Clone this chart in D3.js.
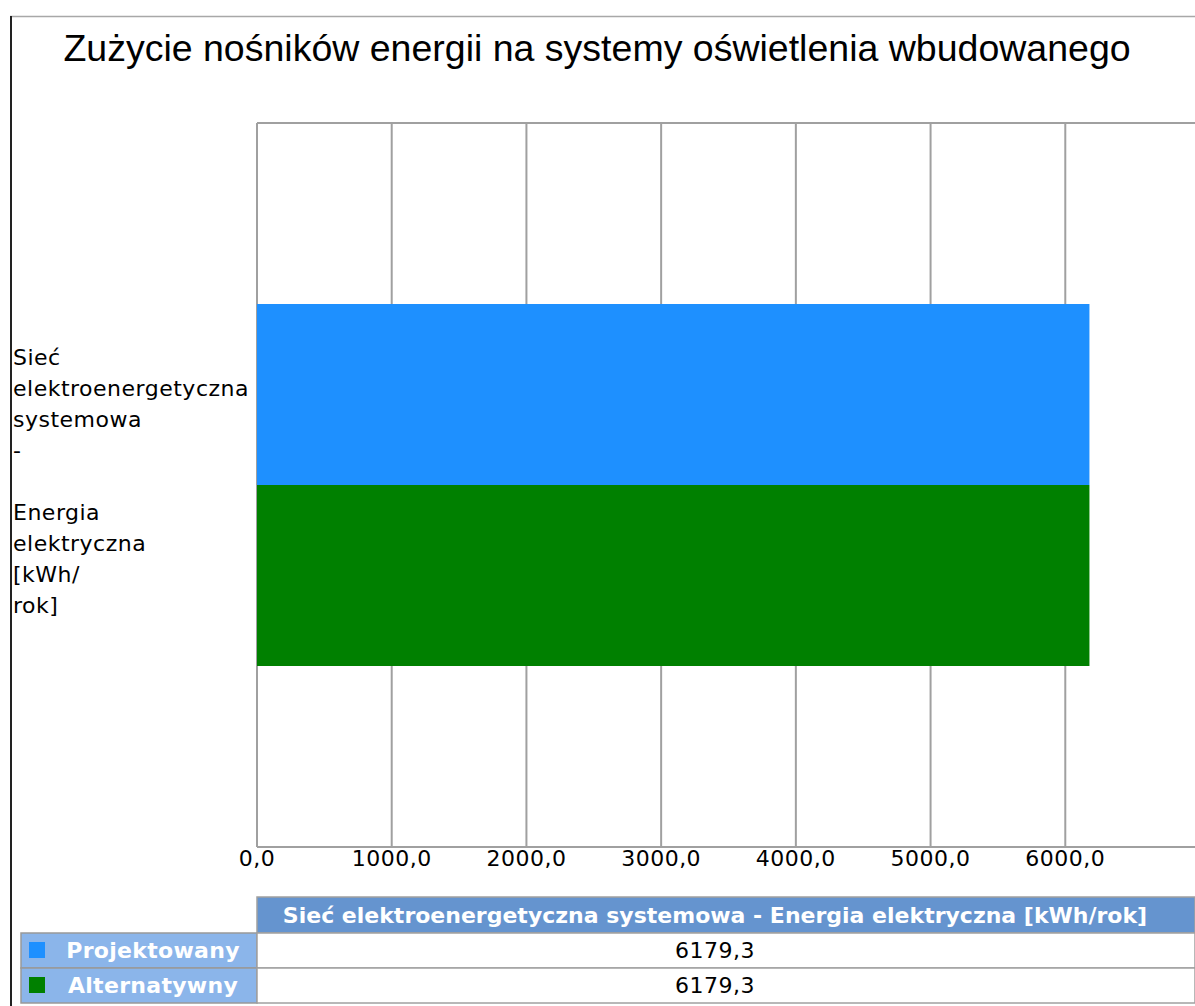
<!DOCTYPE html>
<html>
<head>
<meta charset="utf-8">
<script src="https://cdn.jsdelivr.net/npm/d3@7"></script>
<style>
  body { margin: 0; background: #fff; }
  svg { display: block; }
</style>
</head>
<body>
<svg id="chart" width="1195" height="1006"></svg>
<script>
// Chart data
const chartTitle = "Zużycie nośników energii na systemy oświetlenia wbudowanego";
const categoryName = "Sieć elektroenergetyczna systemowa - Energia elektryczna [kWh/rok]";
const categoryLines = ["Sieć", "elektroenergetyczna", "systemowa", "-", "", "Energia", "elektryczna", "[kWh/", "rok]"];
const seriesNames = ["Projektowany", "Alternatywny"];
const seriesValues = [6179.3, 6179.3];
const seriesColors = ["#1e90ff", "#008000"];
const xTicks = [0, 1000, 2000, 3000, 4000, 5000, 6000];

let svg = d3.select("#chart");
const W = 1195, H = 1006;

//Plot area
const plot = {left: 257, top: 123, bottom: 847, right: 1200};
const fmt = v => d3.format(".1f")(v).replace(".", ",");

let x = d3.scaleLinear().domain([0, 7000]).range([plot.left, plot.right]);
let yCat = d3.scaleBand().domain([categoryName]).range([plot.top, plot.bottom])
    .paddingInner(0).paddingOuter(0.5);
let ySer = d3.scaleBand().domain(seriesNames).range([0, yCat.bandwidth()]);

//Outer frame
svg.append("line").attr("x1", 10).attr("x2", W).attr("y1", 16.5).attr("y2", 16.5)
    .attr("stroke", "#a8a8a8").attr("stroke-width", 1.5);
svg.append("line").attr("x1", 11).attr("x2", 11).attr("y1", 16).attr("y2", H)
    .attr("stroke", "#222").attr("stroke-width", 2);

//Title
svg.append("text")
    .attr("x", 597).attr("y", 61)
    .attr("text-anchor", "middle")
    .attr("font-family", "Liberation Sans, Arial, sans-serif")
    .attr("font-size", 37.5)
    .attr("fill", "#000")
    .text(chartTitle);

//Grid lines
svg.append("g")
    .selectAll("line")
    .data(xTicks)
    .enter().append("line")
    .attr("x1", d => x(d)).attr("x2", d => x(d))
    .attr("y1", plot.top).attr("y2", plot.bottom)
    .attr("stroke", "#a0a0a0").attr("stroke-width", 2);

//Plot border top and bottom
[plot.top, plot.bottom].forEach(yy => {
    svg.append("line").attr("x1", plot.left).attr("x2", W).attr("y1", yy).attr("y2", yy)
        .attr("stroke", "#a0a0a0").attr("stroke-width", 2);
});

//Bars
svg.append("g")
    .selectAll("rect")
    .data(seriesNames)
    .enter().append("rect")
    .attr("x", x(0))
    .attr("y", d => yCat(categoryName) + ySer(d))
    .attr("width", (d, i) => x(seriesValues[i]) - x(0))
    .attr("height", ySer.bandwidth())
    .attr("fill", (d, i) => seriesColors[i]);

//Category label
let catMid = yCat(categoryName) + yCat.bandwidth() / 2;
svg.append("g")
    .selectAll("text")
    .data(categoryLines)
    .enter().append("text")
    .attr("x", 13)
    .attr("y", (d, i) => catMid + (i - 4) * 31 + 4)
    .attr("font-family", "DejaVu Sans, sans-serif")
    .attr("font-size", 22)
    .attr("letter-spacing", 0.5)
    .attr("fill", "#000")
    .text(d => d);

//X axis labels
svg.append("g")
    .selectAll("text")
    .data(xTicks)
    .enter().append("text")
    .attr("x", d => x(d))
    .attr("y", plot.bottom + 19)
    .attr("text-anchor", "middle")
    .attr("font-family", "DejaVu Sans, sans-serif")
    .attr("font-size", 22)
    .attr("letter-spacing", 0.5)
    .attr("fill", "#000")
    .text(d => fmt(d));

//Data table
const tbl = {left: 21, colX: 257, top: 897, headH: 36, rowH: 35, textMid: 715};
svg.append("rect")
    .attr("x", tbl.colX).attr("y", tbl.top).attr("width", W - tbl.colX).attr("height", tbl.headH)
    .attr("fill", "#6594cf").attr("stroke", "#a0a0a0").attr("stroke-width", 1.5);
svg.append("text")
    .attr("x", tbl.textMid).attr("y", tbl.top + 26)
    .attr("text-anchor", "middle")
    .attr("font-family", "DejaVu Sans, sans-serif")
    .attr("font-weight", "bold")
    .attr("font-size", 22)
    .attr("fill", "#fff")
    .text(categoryName);

let rows = svg.append("g")
    .selectAll("g")
    .data(seriesNames)
    .enter().append("g")
    .attr("transform", (d, i) => "translate(0," + (tbl.top + tbl.headH + i * tbl.rowH) + ")");

rows.append("rect")
    .attr("x", tbl.left).attr("y", 0).attr("width", tbl.colX - tbl.left).attr("height", tbl.rowH)
    .attr("fill", "#8bb5ea").attr("stroke", "#999").attr("stroke-width", 1.5);
rows.append("rect")
    .attr("x", tbl.colX).attr("y", 0).attr("width", W - tbl.colX).attr("height", tbl.rowH)
    .attr("fill", "#fff").attr("stroke", "#a0a0a0").attr("stroke-width", 1.5);
rows.append("rect")
    .attr("x", 29).attr("y", 9).attr("width", 16).attr("height", 16)
    .attr("fill", (d, i) => seriesColors[i]);
rows.append("text")
    .attr("x", 153).attr("y", 25)
    .attr("text-anchor", "middle")
    .attr("font-family", "DejaVu Sans, sans-serif")
    .attr("font-weight", "bold")
    .attr("font-size", 22)
    .attr("letter-spacing", 0.3)
    .attr("fill", "#fff")
    .text(d => d);
rows.append("text")
    .attr("x", tbl.textMid).attr("y", 25)
    .attr("text-anchor", "middle")
    .attr("font-family", "DejaVu Sans, sans-serif")
    .attr("font-size", 22)
    .attr("letter-spacing", 0.5)
    .attr("fill", "#000")
    .text((d, i) => fmt(seriesValues[i]));
</script>
</body>
</html>
